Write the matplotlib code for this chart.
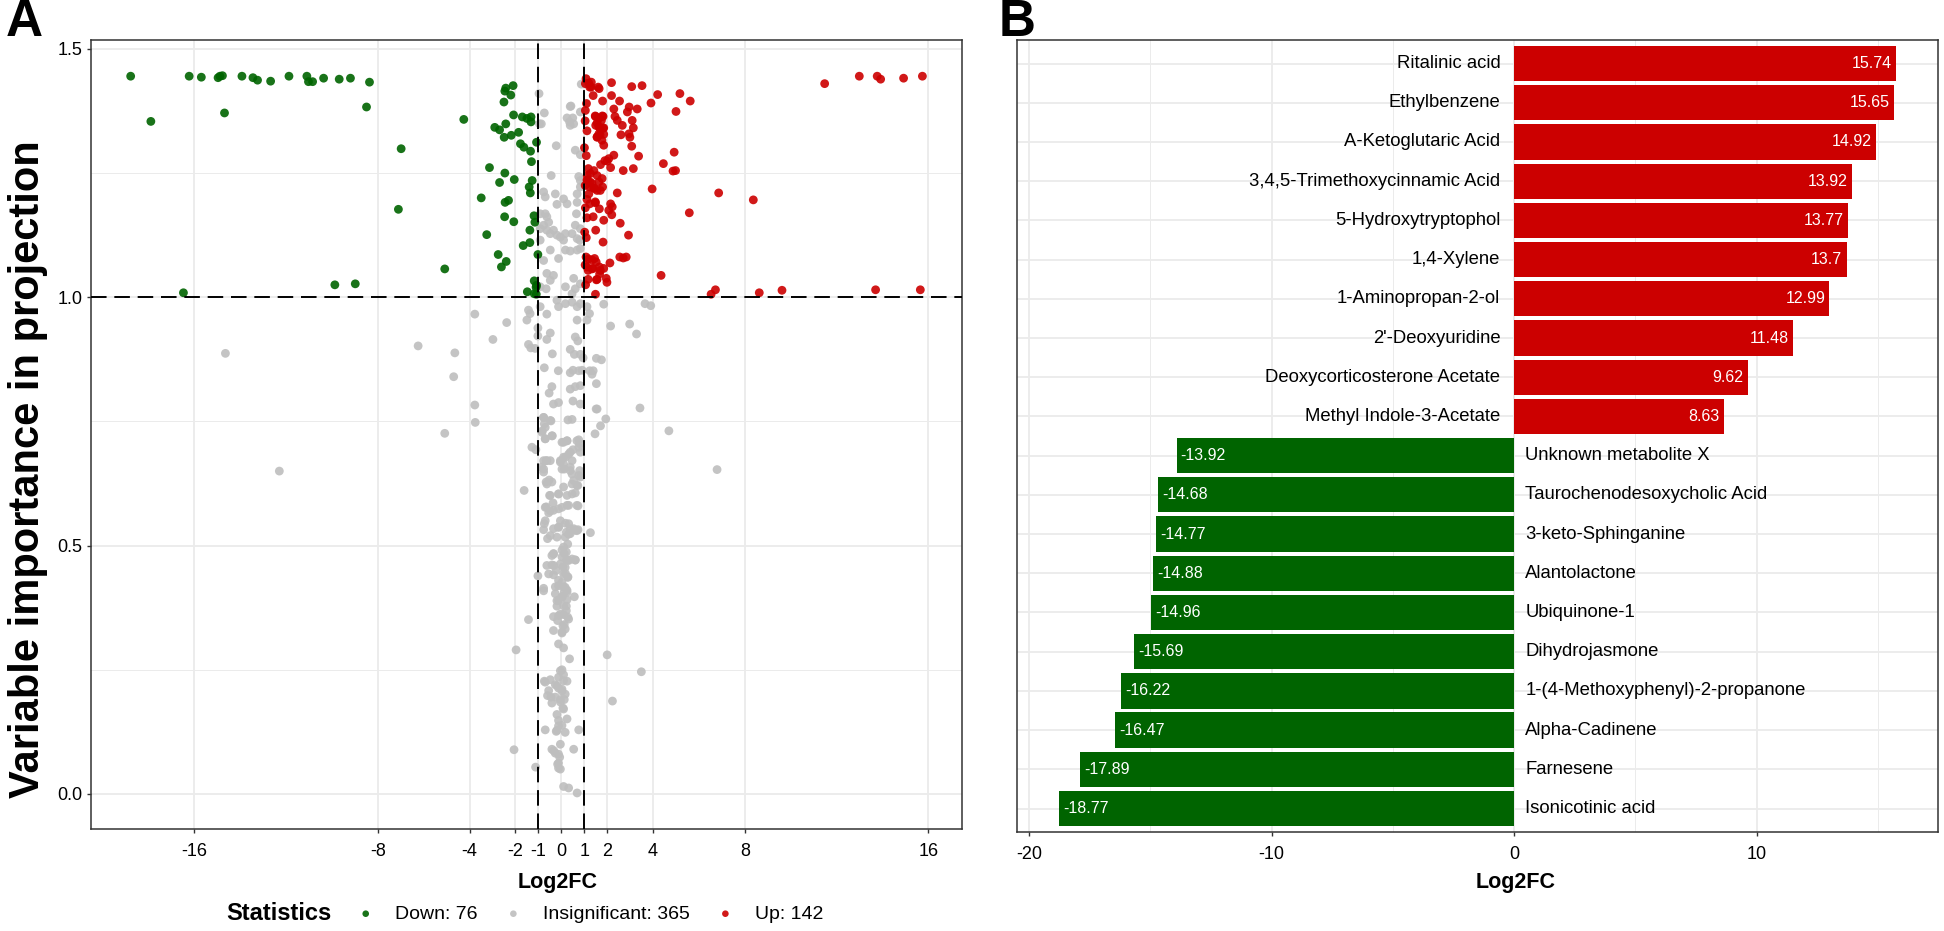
import matplotlib
matplotlib.use('Agg')
import matplotlib.pyplot as plt
import numpy as np

plt.rcParams['font.family'] = ['Liberation Sans', 'DejaVu Sans']
plt.rcParams['axes.unicode_minus'] = False

#--- PANEL A DATA (Log2FC, VIP) ---
down_points = [
    (-18.77, 1.445), (-16.22, 1.445), (-15.69, 1.443), (-14.96, 1.442), (-14.88, 1.445),
    (-14.77, 1.446), (-13.92, 1.445), (-13.44, 1.442), (-13.24, 1.437), (-12.67, 1.435),
    (-11.87, 1.445), (-11.09, 1.445), (-11.02, 1.434), (-10.84, 1.434), (-10.36, 1.441),
    (-9.68, 1.439), (-9.19, 1.441), (-8.36, 1.433), (-8.49, 1.383), (-17.89, 1.354),
    (-14.68, 1.371), (-16.47, 1.009), (-9.87, 1.025), (-8.98, 1.027), (-6.98, 1.299),
    (-7.10, 1.177), (-5.08, 1.057), (-4.25, 1.358),
    (-2.42, 1.421), (-2.10, 1.426), (-2.46, 1.415), (-2.20, 1.407), (-2.50, 1.393),
    (-2.08, 1.367), (-1.70, 1.363), (-1.32, 1.363), (-1.32, 1.353), (-2.90, 1.342),
    (-2.69, 1.337), (-2.42, 1.349), (-2.18, 1.326), (-1.86, 1.332), (-2.49, 1.322),
    (-1.78, 1.309), (-1.63, 1.302), (-1.34, 1.294), (-1.08, 1.312), (-1.30, 1.273),
    (-3.13, 1.261), (-2.46, 1.250), (-2.69, 1.231), (-2.05, 1.237), (-1.27, 1.235),
    (-1.40, 1.222), (-1.35, 1.210), (-3.49, 1.200), (-2.45, 1.191), (-2.47, 1.162),
    (-2.07, 1.152), (-1.19, 1.164), (-1.15, 1.151), (-1.37, 1.135), (-3.25, 1.126),
    (-1.37, 1.110), (-1.66, 1.104), (-1.02, 1.086), (-2.75, 1.086), (-2.40, 1.072),
    (-2.61, 1.061), (-1.18, 1.033), (-1.08, 1.024), (-1.48, 1.011), (-1.18, 1.007),
    (-1.09, 1.006), (-1.10, 1.020), (-2.30, 1.195), (-1.50, 1.360),
]

insig_points = [
    (-0.97, 1.410), (-0.74, 1.371), (-0.95, 1.349), (0.39, 1.384), (0.25, 1.361), (0.36, 1.353),
    (0.50, 1.361), (0.39, 1.346), (0.54, 1.349), (0.83, 1.373), (-0.22, 1.305), (0.61, 1.296),
    (0.83, 1.287), (-0.44, 1.245), (0.87, 1.429), (-0.87, 1.349), (0.42, 1.385),
    (-0.77, 1.212), (-0.70, 1.202), (-0.26, 1.208), (0.10, 1.198), (0.25, 1.188), (-0.19, 1.187),
    (0.69, 1.208), (0.69, 1.191), (0.83, 1.222), (0.83, 1.235), (0.76, 1.243),
    (0.66, 1.168), (0.61, 1.145), (0.83, 1.138), (0.47, 1.128), (0.69, 1.118), (0.80, 1.115),
    (-0.92, 1.168), (-0.70, 1.168), (-0.63, 1.162), (-0.55, 1.151), (-0.77, 1.145), (-0.92, 1.138),
    (-0.63, 1.135), (-0.34, 1.135), (-0.48, 1.128), (-0.19, 1.125), (-0.04, 1.121), (0.18, 1.128),
    (0.10, 1.115), (-0.92, 1.115), (-0.48, 1.095), (-0.12, 1.078), (0.18, 1.095), (0.39, 1.093),
    (0.69, 1.095), (0.83, 1.098), (-0.77, 1.074), (-0.63, 1.048), (-0.34, 1.044), (-0.48, 1.034),
    (0.18, 1.021), (0.54, 1.038), (0.61, 1.017), (0.83, 1.027), (0.47, 1.007), (-0.92, 1.021),
    (-0.66, 1.017),
    (-1.43, 0.974), (-1.36, 0.967), (-0.63, 0.966), (-0.92, 0.981), (-0.19, 0.994), (-0.12, 0.981),
    (0.18, 0.987), (0.47, 0.990), (0.69, 0.981), (0.83, 0.987), (1.12, 0.981), (1.23, 0.967),
    (0.69, 0.954), (1.12, 0.954), (1.85, 0.986), (3.65, 0.987), (3.90, 0.983), (-3.77, 0.966),
    (-2.38, 0.949), (-1.50, 0.954), (2.15, 0.942), (2.98, 0.946),
    (-14.64, 0.887), (-12.29, 0.650), (-6.24, 0.902),
    (3.28, 0.926), (-2.98, 0.915), (-4.64, 0.888), (-4.69, 0.840), (-3.77, 0.783), (-3.75, 0.748),
    (-5.08, 0.726), (-1.43, 0.905), (-1.33, 0.898), (-1.14, 0.897), (-1.02, 0.938), (-1.02, 0.922),
    (-0.48, 0.928), (-0.63, 0.915), (-0.39, 0.886), (0.39, 0.895), (0.61, 0.920), (0.72, 0.912),
    (0.57, 0.885), (0.83, 0.885), (0.95, 0.878), (1.53, 0.877), (1.75, 0.874), (1.24, 0.852),
    (1.39, 0.852), (1.34, 0.845), (1.53, 0.826), (-0.74, 0.858), (-0.13, 0.852), (0.39, 0.848),
    (0.51, 0.853), (0.76, 0.852), (0.91, 0.853), (-0.41, 0.820), (-0.53, 0.807), (0.39, 0.815),
    (0.61, 0.820), (0.83, 0.822), (0.51, 0.791), (0.83, 0.785), (-0.34, 0.785), (-0.12, 0.788),
    (1.52, 0.775), (1.56, 0.775), (3.43, 0.777), (1.94, 0.755), (1.71, 0.741), (1.47, 0.725),
    (4.69, 0.731), (6.79, 0.653),
    (-0.77, 0.758), (-0.74, 0.745), (-0.45, 0.751), (-0.83, 0.731), (-0.70, 0.715), (-0.39, 0.721),
    (0.29, 0.753), (0.47, 0.754), (-1.28, 0.698), (-1.11, 0.693), (0.10, 0.708), (0.25, 0.711),
    (0.76, 0.713), (0.80, 0.705), (0.51, 0.693), (0.32, 0.684), (0.18, 0.678), (0.83, 0.688),
    (-0.77, 0.671), (-0.66, 0.671), (-0.48, 0.671), (-0.85, 0.658), (-0.77, 0.648), (-0.04, 0.671),
    (0.10, 0.664), (0.13, 0.654), (0.39, 0.658), (0.47, 0.644), (0.80, 0.651), (0.83, 0.638),
    (-0.66, 0.628), (-0.53, 0.632), (0.54, 0.631), (0.72, 0.621), (0.47, 0.604), (0.61, 0.606),
    (0.10, 0.618), (-0.12, 0.604), (-0.51, 0.601), (-1.62, 0.611), (-0.66, 0.578), (-0.55, 0.566),
    (-0.34, 0.571), (-0.12, 0.574), (0.25, 0.581), (0.73, 0.580), (-0.36, 0.586), (-0.74, 0.544),
    (-0.77, 0.532), (-0.34, 0.534), (-0.12, 0.537), (0.18, 0.545), (0.22, 0.527), (0.39, 0.524),
    (0.61, 0.531), (0.73, 0.532), (-0.60, 0.514), (1.27, 0.526),
    (-0.34, 0.484), (-0.41, 0.461), (0.03, 0.491), (0.13, 0.484), (0.22, 0.471), (0.07, 0.457),
    (0.29, 0.471), (0.61, 0.471), (0.18, 0.444), (0.29, 0.437), (-0.34, 0.441), (-1.02, 0.439),
    (-0.77, 0.414), (-0.26, 0.417), (-0.12, 0.430), (0.10, 0.417), (0.13, 0.407), (0.25, 0.410),
    (0.57, 0.397), (-0.26, 0.403), (-0.12, 0.390), (0.25, 0.391), (0.03, 0.397),
    (-0.19, 0.378), (0.22, 0.378), (-0.34, 0.357), (-0.12, 0.359), (0.10, 0.361), (0.32, 0.352),
    (-1.43, 0.351), (-0.34, 0.329), (0.13, 0.341), (0.03, 0.324), (-0.12, 0.302), (0.10, 0.294),
    (-1.97, 0.290), (0.36, 0.272), (2.00, 0.280), (3.49, 0.246), (0.03, 0.250), (0.10, 0.240),
    (0.25, 0.227), (-0.74, 0.227), (-0.48, 0.230), (-0.26, 0.220), (-0.12, 0.213), (0.03, 0.207),
    (-0.60, 0.198), (-0.41, 0.183), (-0.04, 0.190), (0.13, 0.190), (0.07, 0.173), (-0.19, 0.160),
    (0.25, 0.151), (-0.70, 0.129), (-0.12, 0.137), (-0.22, 0.126), (0.76, 0.129), (-0.04, 0.100),
    (-0.41, 0.090), (-0.26, 0.082), (-0.12, 0.080), (0.54, 0.090), (-2.06, 0.089), (-1.12, 0.054),
    (-0.12, 0.062), (-0.12, 0.052), (0.10, 0.015), (0.32, 0.012), (0.69, 0.002), (2.23, 0.187),
    (0.17, 0.517), (0.28, 0.503), (0.10, 0.497), (0.22, 0.487), (0.03, 0.477), (0.32, 0.470),
    (-0.04, 0.463), (0.17, 0.456), (-0.22, 0.450), (0.10, 0.443), (0.28, 0.436), (0.03, 0.426),
    (-0.12, 0.419), (0.17, 0.416), (0.25, 0.406), (0.03, 0.396), (-0.19, 0.389), (0.10, 0.379),
    (0.22, 0.369), (-0.04, 0.362), (0.28, 0.356), (-0.16, 0.349), (0.07, 0.339), (0.17, 0.332),
    (0.03, 0.326), (-0.33, 0.460), (-0.41, 0.480), (-0.55, 0.443), (-0.77, 0.409), (0.47, 0.473),
    (0.61, 0.471), (0.32, 0.523), (0.39, 0.534), (0.68, 0.530), (-0.12, 0.537), (-0.48, 0.520),
    (-0.33, 0.483), (-0.63, 0.460),
    (-0.04, 0.248), (-0.12, 0.235), (0.10, 0.228), (-0.19, 0.218), (0.03, 0.211), (0.17, 0.201),
    (-0.26, 0.195), (-0.04, 0.185), (0.10, 0.171), (-0.12, 0.148), (0.03, 0.138), (-0.19, 0.128),
    (0.17, 0.124), (-0.33, 0.087), (-0.07, 0.074), (-0.16, 0.060), (-0.04, 0.050), (-0.70, 0.225),
    (-0.45, 0.195), (-0.55, 0.208),
    (-0.77, 0.758), (-0.70, 0.738), (-0.84, 0.728), (-0.48, 0.752), (-0.70, 0.715), (-0.41, 0.721),
    (0.03, 0.708), (0.25, 0.711), (0.68, 0.711), (0.76, 0.698), (0.39, 0.688), (0.10, 0.678),
    (0.47, 0.671), (-0.04, 0.668), (-0.63, 0.671), (-0.77, 0.654), (0.03, 0.654), (0.39, 0.651),
    (0.76, 0.641), (-0.41, 0.628), (-0.63, 0.624), (0.47, 0.624), (0.68, 0.621), (-0.12, 0.604),
    (-0.48, 0.601), (0.25, 0.601), (-0.70, 0.577), (-0.48, 0.570), (0.03, 0.577), (0.32, 0.581),
    (0.68, 0.581), (-0.70, 0.550), (-0.04, 0.550), (0.32, 0.544), (0.54, 0.534), (-0.19, 0.517),
]

up_points = [
    (1.05, 1.430), (1.20, 1.431), (1.30, 1.423), (1.39, 1.406), (1.65, 1.420), (2.19, 1.432),
    (3.07, 1.424), (3.52, 1.426), (2.19, 1.406), (1.80, 1.395), (2.54, 1.395), (2.96, 1.383),
    (2.88, 1.373), (3.31, 1.379), (2.29, 1.379), (4.20, 1.408), (3.91, 1.391), (5.17, 1.410),
    (5.62, 1.395), (5.00, 1.374), (1.05, 1.376),
    (1.49, 1.364), (1.82, 1.364), (1.75, 1.356), (1.50, 1.346), (1.68, 1.341), (1.85, 1.341),
    (1.64, 1.329), (1.56, 1.322), (2.34, 1.364), (2.44, 1.356), (2.66, 1.346), (3.09, 1.356),
    (3.14, 1.341), (2.95, 1.329), (2.99, 1.322), (2.60, 1.327),
    (1.01, 1.301), (1.85, 1.306), (3.07, 1.304), (2.29, 1.286), (2.07, 1.279), (2.00, 1.274),
    (1.90, 1.275), (1.71, 1.267), (3.37, 1.284), (4.92, 1.292), (4.98, 1.255), (4.87, 1.254),
    (4.45, 1.269), (2.70, 1.255), (3.14, 1.259), (2.15, 1.261),
    (1.18, 1.259), (1.27, 1.249), (1.42, 1.255), (1.56, 1.245), (1.78, 1.239), (1.64, 1.232),
    (1.34, 1.229), (1.24, 1.222), (1.14, 1.235), (1.45, 1.219), (1.80, 1.222),
    (3.96, 1.218), (6.86, 1.210), (2.44, 1.210), (1.12, 1.197), (1.49, 1.190), (1.20, 1.208),
    (2.15, 1.188), (2.22, 1.182), (2.07, 1.175), (1.39, 1.162), (1.85, 1.155), (2.20, 1.166),
    (2.57, 1.149), (1.02, 1.131), (1.50, 1.135), (2.93, 1.125), (1.82, 1.111), (5.58, 1.170),
    (1.08, 1.081), (1.45, 1.078), (1.52, 1.071), (1.17, 1.054), (1.37, 1.058), (1.66, 1.061),
    (1.85, 1.058), (1.96, 1.038), (1.56, 1.036), (1.17, 1.036), (2.12, 1.069), (2.55, 1.081),
    (2.70, 1.079), (2.83, 1.081), (4.35, 1.044), (1.49, 1.006), (6.53, 1.006), (6.72, 1.015),
    (11.48, 1.430), (12.99, 1.445), (13.77, 1.445), (13.92, 1.439), (14.92, 1.441), (15.74, 1.445),
    (13.70, 1.015), (15.65, 1.015), (9.62, 1.014), (8.63, 1.009), (8.37, 1.196),
    (1.08, 1.440), (1.10, 1.390), (1.04, 1.355), (1.12, 1.335), (1.09, 1.285), (1.13, 1.245),
    (1.04, 1.225), (1.05, 1.180), (1.12, 1.160), (1.09, 1.120), (1.04, 1.065), (1.06, 1.025),
    (1.31, 1.433), (1.24, 1.423), (1.61, 1.423), (1.48, 1.365), (1.63, 1.360), (1.79, 1.365),
    (1.56, 1.351), (1.64, 1.343), (1.82, 1.340), (1.56, 1.323), (1.69, 1.327), (1.85, 1.328),
    (1.77, 1.316), (1.12, 1.236), (1.26, 1.232), (1.41, 1.220), (1.56, 1.215), (1.70, 1.215),
    (1.48, 1.192), (1.24, 1.188), (1.66, 1.178), (1.19, 1.077), (1.34, 1.075), (1.12, 1.061),
    (1.34, 1.057), (1.70, 1.054), (1.67, 1.047), (1.53, 1.035), (1.99, 1.030),
]

legend_labels = ['Down: 76', 'Insignificant: 365', 'Up: 142']
a_xticks = [-16, -8, -4, -2, -1, 0, 1, 2, 4, 8, 16]
a_yticks = [0.0, 0.5, 1.0, 1.5]

#--- PANEL B DATA ---
metabolites = ['Ritalinic acid', 'Ethylbenzene', 'A-Ketoglutaric Acid',
               '3,4,5-Trimethoxycinnamic Acid', '5-Hydroxytryptophol', '1,4-Xylene',
               '1-Aminopropan-2-ol', "2'-Deoxyuridine", 'Deoxycorticosterone Acetate',
               'Methyl Indole-3-Acetate', 'Unknown metabolite X', 'Taurochenodesoxycholic Acid',
               '3-keto-Sphinganine', 'Alantolactone', 'Ubiquinone-1', 'Dihydrojasmone',
               '1-(4-Methoxyphenyl)-2-propanone', 'Alpha-Cadinene', 'Farnesene', 'Isonicotinic acid']
log2fc = [15.74, 15.65, 14.92, 13.92, 13.77, 13.7, 12.99, 11.48, 9.62, 8.63,
          -13.92, -14.68, -14.77, -14.88, -14.96, -15.69, -16.22, -16.47, -17.89, -18.77]

#--- STYLE ---
green_pt, grey_pt, red_pt = '#006400', '#BEBEBE', '#CC0000'
green_bar, red_bar = '#006400', '#CC0000'
grid_col = '#EBEBEB'
border_col = '#333333'
xlim = (-20.5, 17.47)

fig = plt.figure(figsize=(19.44, 9.31), dpi=100)
axA = fig.add_axes([0.0468, 0.1096, 0.4481, 0.8475])
axB = fig.add_axes([0.5231, 0.1063, 0.4738, 0.8507])


def style_axes(ax):
    ax.set_axisbelow(True)
    for sp in ax.spines.values():
        sp.set_color(border_col)
        sp.set_linewidth(1.1)
    ax.tick_params(axis='both', which='major', length=2.75, width=1.0, color=border_col,
                   labelsize=13, labelcolor='black', pad=3.5)
    ax.tick_params(axis='x', which='major', pad=7)
    ax.tick_params(axis='both', which='minor', length=0)


#--- PANEL A: VIP SCATTER ---
style_axes(axA)
dn = np.array(down_points)
ins = np.array(insig_points)
up = np.array(up_points)

sc_ins = axA.scatter(ins[:, 0], ins[:, 1], s=40, color=grey_pt, alpha=0.9, edgecolors='none', zorder=3)
sc_dn = axA.scatter(dn[:, 0], dn[:, 1], s=40, color=green_pt, alpha=0.9, edgecolors='none', zorder=3)
sc_up = axA.scatter(up[:, 0], up[:, 1], s=40, color=red_pt, alpha=0.9, edgecolors='none', zorder=3)

for xv in (-1, 1):
    axA.axvline(xv, color='black', lw=1.4, ls=(0, (8, 4)), zorder=4)
axA.axhline(1.0, color='black', lw=1.4, ls=(0, (8, 4)), zorder=4)

axA.set_xlim(*xlim)
axA.set_ylim(-0.0705, 1.518)
axA.set_xticks(a_xticks)
axA.set_xticklabels([str(t) for t in a_xticks])
axA.set_yticks(a_yticks)
axA.set_yticklabels([f'{t:.1f}' for t in a_yticks])
axA.set_yticks([0.25, 0.75, 1.25], minor=True)
axA.grid(which='major', color=grid_col, lw=1.3)
axA.grid(which='minor', axis='y', color=grid_col, lw=0.7)

axA.set_xlabel('Log2FC', fontsize=15.5, fontweight='bold')
axA.xaxis.set_label_coords(0.536, -0.068)
axA.xaxis.label.set_va('center')
axA.set_ylabel('Variable importance in projection', fontsize=30, fontweight='bold')
axA.yaxis.set_label_coords(-0.072, 0.456)
axA.yaxis.label.set_va('center')

#--- PANEL B: TOP METABOLITES ---
style_axes(axB)
ypos = np.arange(len(metabolites), 0, -1)
bar_cols = [red_bar if v > 0 else green_bar for v in log2fc]
axB.barh(ypos, log2fc, height=0.9, color=bar_cols, zorder=3)

for name, v, y in zip(metabolites, log2fc, ypos):
    if v > 0:
        axB.annotate(name, xy=(0, y), xytext=(-10, 0), textcoords='offset points',
                     ha='right', va='center', fontsize=13.3, zorder=5)
        axB.annotate(str(v), xy=(v, y), xytext=(-3, 0), textcoords='offset points',
                     ha='right', va='center', fontsize=11.5, color='white', zorder=5)
    else:
        axB.annotate(name, xy=(0, y), xytext=(8, 0), textcoords='offset points',
                     ha='left', va='center', fontsize=13.3, zorder=5)
        axB.annotate(str(v), xy=(v, y), xytext=(3, 0), textcoords='offset points',
                     ha='left', va='center', fontsize=11.5, color='white', zorder=5)

axB.set_xlim(*xlim)
axB.set_ylim(0.4, len(metabolites) + 0.6)
axB.set_xticks([-20, -10, 0, 10])
axB.set_xticklabels(['-20', '-10', '0', '10'])
axB.set_xticks([-15, -5, 5, 15], minor=True)
axB.set_yticks(ypos)
axB.set_yticklabels([])
axB.tick_params(axis='y', which='major', length=0)
axB.grid(which='major', color=grid_col, lw=1.3)
axB.grid(which='minor', axis='x', color=grid_col, lw=0.7)
axB.set_xlabel('Log2FC', fontsize=15.5, fontweight='bold')
axB.xaxis.set_label_coords(0.541, -0.064)
axB.xaxis.label.set_va('center')

#--- PANEL LETTERS ---
fig.text(24 / 1944, 1 - 23 / 931, 'A', fontsize=37, fontweight='bold', ha='center', va='center')
fig.text(1017 / 1944, 1 - 23 / 931, 'B', fontsize=37, fontweight='bold', ha='center', va='center')

#--- LEGEND ---
fig.text(226 / 1944, 1 - 914 / 931, 'Statistics', fontsize=17, fontweight='bold', ha='left', va='center')
fig.legend(handles=[sc_dn, sc_ins, sc_up], labels=legend_labels, loc='center left',
           bbox_to_anchor=(356 / 1944, 1 - 914 / 931), ncol=3, frameon=False, fontsize=14,
           handlelength=1.0, handletextpad=1.0, columnspacing=1.35, borderpad=0,
           borderaxespad=0, markerscale=0.75)

plt.savefig('out.png', dpi=100)
